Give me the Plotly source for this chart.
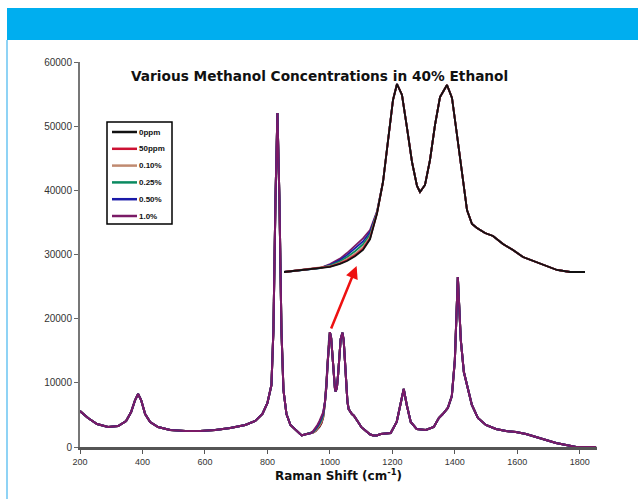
import plotly.graph_objects as go

# ---------------- data ----------------
series_names = ["0ppm", "50ppm", "0.10%", "0.25%", "0.50%", "1.0%"]
series_colors = ["#111111", "#cc1133", "#c08a70", "#0a8a60", "#1a1aa8", "#7a1a66"]

# Raman shift (axis units as drawn) and base intensity
shift = [200, 225.7, 254.5, 289.8, 322, 347.6, 363.6, 376.4, 386, 395.7, 408.5, 424.6,
         450, 488.7, 536.9, 585, 633, 681, 729, 761, 784, 800, 812.8, 819.2, 825.7,
         832, 838.4, 844.8, 851.3, 860.9, 873.7, 893, 900,
         909.6, 922.4, 938.4, 946.4, 954.4, 960, 966.4, 972.8, 978.4, 984, 988.8,
         992.8, 996.8, 1000, 1004, 1008, 1012, 1016, 1018.4, 1022.4, 1026.4, 1030.4,
         1034.4, 1040, 1044, 1048, 1052, 1056, 1060, 1064, 1070.4, 1076.8, 1084.8,
         1092.8, 1100.8, 1108.8, 1118.4, 1128, 1138.4, 1150.4,
         1162.5, 1194.5, 1213.8, 1226.6, 1236.3, 1246, 1258.7, 1278, 1306.8, 1332.5,
         1348.6, 1361.4, 1377.4, 1390.3, 1400, 1409.5, 1419, 1428.8, 1441.6, 1454.4,
         1473.7, 1499.3, 1531.4, 1563.5, 1595.6, 1627.7, 1659.7, 1691.8, 1723.9,
         1756, 1788, 1820, 1852]
intensity = [5600, 4520, 3580, 3120, 3270, 4050, 5450, 7320, 8260, 7320, 5140, 3900,
             3120, 2650, 2490, 2490, 2650, 2960, 3430, 4050, 5140, 6860, 9660, 18230, 38480,
             52040, 38480, 18230, 8880, 5140, 3430, 2490, 2200,
             1807, 1978, 2150, 2250, 2500, 2750, 3150, 3700, 4600, 6800, 9511,
             13106, 16530, 17900, 16958, 14134, 11223, 9169, 8655, 9254, 11394, 14390,
             16787, 17814, 16702, 13534, 10110, 7114, 5916, 5574, 5146, 4889, 4204,
             3690, 3091, 2749, 2321, 1978, 1807, 1807,
             2030, 2180, 3900, 6540, 9040, 6540, 3900, 2800, 2650, 3120,
             4520, 5140, 6080, 7950, 13550, 26490, 16670, 11690, 8880, 6540,
             4520, 3430, 2800, 2490, 2340, 2030, 1560, 1090, 620,
             310, 0, 0, 0]

# methanol band on the low-shift flank of the ~1000 peak (added intensity per series)
flank_shift = [946.4, 954.4, 960, 966.4, 972.8, 978.4, 984]
flank_added = {
    "0ppm":  [0, 0, 0, 0, 0, 0, 0],
    "50ppm": [20, 40, 60, 80, 90, 70, 20],
    "0.10%": [50, 100, 160, 210, 240, 200, 50],
    "0.25%": [100, 210, 330, 430, 480, 400, 100],
    "0.50%": [160, 330, 500, 650, 720, 600, 150],
    "1.0%":  [230, 450, 680, 870, 980, 800, 200],
}

x_ticks = [200, 400, 600, 800, 1000, 1200, 1400, 1600, 1800]
y_ticks = [0, 10000, 20000, 30000, 40000, 50000, 60000]

# ---------------- figure ----------------
fig = go.Figure()


def series_values(name):
    add = dict(zip(flank_shift, flank_added[name]))
    return [v + add.get(s, 0) for s, v in zip(shift, intensity)]


for name, color in zip(series_names, series_colors):
    fig.add_trace(go.Scatter(x=shift, y=series_values(name), mode="lines", name=name,
                             showlegend=False, line=dict(color=color, width=2),
                             xaxis="x", yaxis="y"))

# magnified inset of the doublet
for name, color in list(zip(series_names, series_colors))[::-1]:
    fig.add_trace(go.Scatter(x=shift, y=series_values(name), mode="lines", showlegend=False,
                             line=dict(color=color, width=1.8), xaxis="x2", yaxis="y2",
                             hoverinfo="skip"))

W, H = 638, 499
L, R, T, B = 80, 41, 62, 52
pw, ph = W - L - R, H - T - B


def px(xp):
    return (xp - L) / pw


def py(yp):
    return (H - B - yp) / ph


fig.update_layout(
    width=W, height=H,
    margin=dict(l=L, r=R, t=T, b=B),
    paper_bgcolor="white", plot_bgcolor="white",
    font=dict(family="Liberation Sans, Arial, sans-serif", color="#222"),
    xaxis=dict(range=[200, 1855], tickvals=x_ticks, ticks="outside", ticklen=4,
               tickcolor="#555", showline=True, linecolor="#555", linewidth=3,
               showgrid=False, zeroline=False, tickfont=dict(size=9, color="#333")),
    yaxis=dict(range=[0, 60000], tickvals=y_ticks, tickformat="d", ticks="outside",
               ticklen=4, tickcolor="#666", showline=True, linecolor="#777", linewidth=2,
               showgrid=False, zeroline=False, tickfont=dict(size=10, color="#333")),
    xaxis2=dict(domain=[px(284), px(585)], range=[909.6, 1150.4], anchor="y2",
                visible=False, fixedrange=True),
    yaxis2=dict(domain=[py(275), py(80)], range=[1550, 18242], anchor="x2",
                visible=False, fixedrange=True),
    showlegend=False,
)

fig.add_annotation(text="<b>Various Methanol Concentrations in 40% Ethanol</b>",
                   xref="paper", yref="paper", x=px(319), y=py(66), showarrow=False,
                   font=dict(family="DejaVu Sans, sans-serif", size=13.7, color="#111"))
fig.add_annotation(text="<b>Raman Shift (cm<sup>-1</sup>)</b>",
                   xref="paper", yref="paper", x=px(338), y=py(485), showarrow=False,
                   font=dict(family="DejaVu Sans, sans-serif", size=12, color="#111"))

# legend box drawn in the page
lg_left, lg_right, lg_top, lg_bottom = 107, 172, 122, 224
fig.add_shape(type="rect", xref="paper", yref="paper", x0=px(lg_left), x1=px(lg_right),
              y0=py(lg_bottom), y1=py(lg_top), fillcolor="white",
              line=dict(color="#000", width=1.5))
for i, (name, color) in enumerate(zip(series_names, series_colors)):
    row_y = 132 + i * 16.8
    fig.add_shape(type="line", xref="paper", yref="paper", x0=px(112), x1=px(137),
                  y0=py(row_y), y1=py(row_y), line=dict(color=color, width=2.5))
    fig.add_annotation(text="<b>%s</b>" % name, xref="paper", yref="paper",
                       x=px(137), y=py(row_y), xanchor="left", yanchor="middle",
                       showarrow=False, font=dict(size=8, color="#111"))

# red arrow from doublet to the inset
fig.add_annotation(x=1085.5, y=28200, ax=1002, ay=18230, xref="x", yref="y",
                   axref="x", ayref="y", showarrow=True, arrowhead=2, arrowsize=1,
                   arrowwidth=2.5, arrowcolor="#ee1111", text="")

# page decoration: blue band and light border
fig.add_shape(type="rect", xref="paper", yref="paper", x0=px(7), x1=px(640),
              y0=py(40), y1=py(8), fillcolor="#00aeef", line=dict(width=0))
fig.add_shape(type="line", xref="paper", yref="paper", x0=px(7), x1=px(7),
              y0=py(40), y1=py(500), line=dict(color="#8fd3f5", width=2))

fig.write_html("out.html",
               config={"displayModeBar": False},
               post_script="document.body.style.margin='0';"
                           "document.body.style.overflow='hidden';")
